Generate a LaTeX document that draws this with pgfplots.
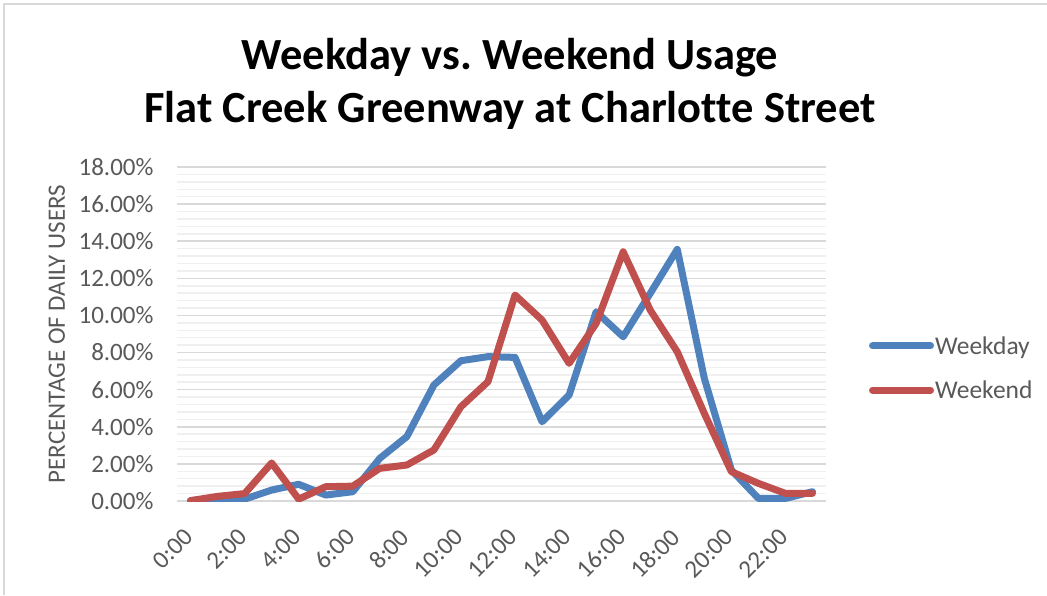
\documentclass[border=0pt]{standalone}
\usepackage{pgfplots}
\pgfplotsset{compat=1.18}
\usepackage{fontspec}
\setmainfont{Carlito}[Ligatures=CommonOff]
\frenchspacing
\definecolor{wdblue}{HTML}{4F81BD}
\definecolor{wered}{HTML}{C0504D}
\definecolor{txtgray}{HTML}{595959}
\definecolor{majgrid}{HTML}{D9D9D9}
\definecolor{mingrid}{HTML}{F0F0F0}
\begin{document}
\begin{tikzpicture}[x=1pt,y=1pt]
\useasboundingbox (0,0) rectangle (1047,595);
\draw[majgrid, line width=1.5pt] (4,0) -- (4,591) -- (1047,591);
\begin{axis}[
  at={(177pt,94pt)}, anchor=south west,
  scale only axis, width=649pt, height=334pt,
  xmin=-0.5, xmax=23.5, ymin=0, ymax=18,
  axis line style={draw=none},
  xtick={0,2,...,22},
  xticklabels={0:00,2:00,4:00,6:00,8:00,10:00,12:00,14:00,16:00,18:00,20:00,22:00},
  ytick={0,2,...,18},
  yticklabels={0.00\%,2.00\%,4.00\%,6.00\%,8.00\%,10.00\%,12.00\%,14.00\%,16.00\%,18.00\%},
  minor y tick num=4,
  ymajorgrids, yminorgrids,
  major grid style={majgrid, line width=1.5pt},
  minor grid style={mingrid, line width=1.5pt},
  major tick length=0pt, minor tick length=0pt,
  tick label style={font=\fontsize{25}{30}\selectfont, text=txtgray},
  xticklabel style={xshift=-2pt, yshift=-32pt, rotate=45, anchor=east, inner sep=0pt},
  yticklabel style={xshift=-20pt},
  ylabel={PERCENTAGE OF DAILY USERS},
  ylabel style={at={(axis description cs:-0.185,0.5)}, anchor=center, font=\fontsize{25}{30}\selectfont, text=txtgray},
  legend style={draw=none, fill=none, at={(axis description cs:1.066,0.398)}, anchor=west,
    font=\fontsize{25.5}{30}\selectfont, text=txtgray, row sep=23pt, inner sep=0pt,
    nodes={inner sep=1pt}},
  legend cell align=left,
  legend image code/.code={\draw[#1, line cap=round] (0pt,0pt) -- (58pt,0pt);},
  every axis plot/.append style={line width=7pt, line join=round, line cap=round},
]
\addplot[wdblue] coordinates {
(0,0.02) (1,0.15) (2,0.10) (3,0.59) (4,0.90) (5,0.32) (6,0.50) (7,2.30) (8,3.47) (9,6.25)
(10,7.56) (11,7.78) (12,7.74) (13,4.27) (14,5.71) (15,10.20) (16,8.85) (17,11.19) (18,13.56)
(19,6.61) (20,1.67) (21,0.14) (22,0.14) (23,0.50)};
\addlegendentry{Weekday}
\addplot[wered] coordinates {
(0,0.02) (1,0.25) (2,0.40) (3,2.05) (4,0.10) (5,0.77) (6,0.80) (7,1.76) (8,1.94) (9,2.75)
(10,5.08) (11,6.43) (12,11.10) (13,9.75) (14,7.42) (15,9.57) (16,13.43) (17,10.29) (18,8.04)
(19,4.72) (20,1.58) (21,0.95) (22,0.41) (23,0.41)};
\addlegendentry{Weekend}
\end{axis}
\node[anchor=base, font=\fontsize{44.5}{50}\selectfont\bfseries] at (510,525) {Weekday vs. Weekend Usage};
\node[anchor=base, font=\fontsize{44.5}{50}\selectfont\bfseries] at (510,472) {Flat Creek Greenway at Charlotte Street};
\end{tikzpicture}
\end{document}
